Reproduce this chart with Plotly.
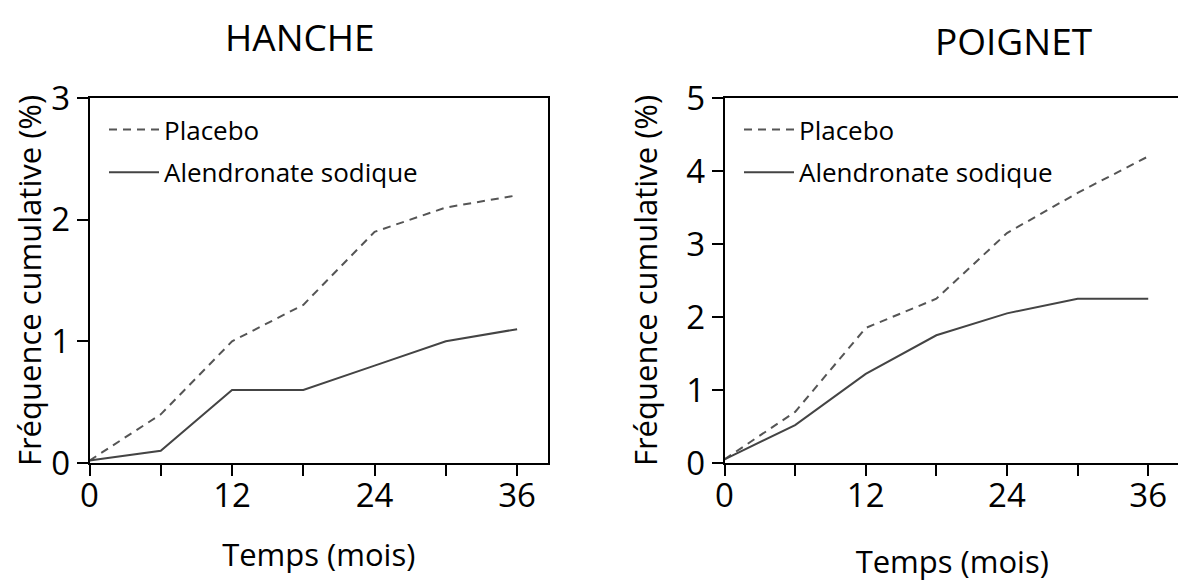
import plotly.graph_objects as go

months = [0, 6, 12, 18, 24, 30, 36]

hanche_placebo = [0.02, 0.4, 1.0, 1.3, 1.9, 2.1, 2.2]
hanche_alendronate = [0.02, 0.1, 0.6, 0.6, 0.8, 1.0, 1.1]

poignet_placebo = [0.05, 0.7, 1.85, 2.25, 3.15, 3.7, 4.2]
poignet_alendronate = [0.05, 0.52, 1.22, 1.75, 2.05, 2.25, 2.25]

titles = ["HANCHE", "POIGNET"]
series_names = ["Placebo", "Alendronate sodique"]
x_tickvals = [0, 6, 12, 18, 24, 30, 36]
x_ticktext = ["0", "", "12", "", "24", "", "36"]
y_ticks_left = [0, 1, 2, 3]
y_ticks_right = [0, 1, 2, 3, 4, 5]

FONT = "Open Sans"
FW, FH = 1178, 582
OFF = 8  # page body margin


def fx(px):
    return (px - OFF) / FW


def fy(py):
    return 1 - (py - OFF) / FH


fig = go.Figure()

dash_col = "#555555"
solid_col = "#444444"

fig.add_trace(go.Scatter(x=months, y=hanche_placebo, mode="lines", name=series_names[0],
                         line=dict(color=dash_col, width=2, dash="8px,6px"),
                         xaxis="x", yaxis="y", legend="legend", legendgroup="a"))
fig.add_trace(go.Scatter(x=months, y=hanche_alendronate, mode="lines", name=series_names[1],
                         line=dict(color=solid_col, width=2),
                         xaxis="x", yaxis="y", legend="legend", legendgroup="b"))
fig.add_trace(go.Scatter(x=months, y=poignet_placebo, mode="lines", name=series_names[0],
                         line=dict(color=dash_col, width=2, dash="8px,6px"),
                         xaxis="x2", yaxis="y2", legend="legend2", legendgroup="c"))
fig.add_trace(go.Scatter(x=months, y=poignet_alendronate, mode="lines", name=series_names[1],
                         line=dict(color=solid_col, width=2),
                         xaxis="x2", yaxis="y2", legend="legend2", legendgroup="d"))

ydom = [fy(463), fy(98)]

axis_common = dict(showline=True, mirror=True, linecolor="black", linewidth=1.5,
                   ticks="outside", ticklen=11, tickwidth=1.5, tickcolor="black",
                   showgrid=False, zeroline=False, automargin=False,
                   tickfont=dict(family=FONT, size=33, color="black"))

title_font = dict(family=FONT, size=31, color="black")

fig.update_layout(
    width=FW, height=FH,
    margin=dict(l=0, r=0, t=0, b=0),
    paper_bgcolor="white", plot_bgcolor="white",
    font=dict(family=FONT, color="black"),
    xaxis=dict(domain=[fx(89.5), fx(548)], range=[0, 38.6], anchor="y",
               tickvals=x_tickvals, ticktext=x_ticktext, ticklabelstandoff=-8,
               title=dict(text="Temps (mois)", font=title_font, standoff=28),
               **axis_common),
    yaxis=dict(domain=ydom, range=[0, 3], anchor="x", tickvals=y_ticks_left,
               title=dict(text="Fréquence cumulative (%)", font=title_font, standoff=6),
               **axis_common),
    xaxis2=dict(domain=[fx(724.5), fx(1180)], range=[0, 38.7], anchor="y2",
                tickvals=x_tickvals, ticktext=x_ticktext, ticklabelstandoff=-8,
                title=dict(text="Temps (mois)", font=title_font, standoff=35),
                **axis_common),
    yaxis2=dict(domain=ydom, range=[0, 5], anchor="x2", tickvals=y_ticks_right,
                title=dict(text="Fréquence cumulative (%)", font=title_font, standoff=19),
                **axis_common),
    legend=dict(x=fx(104), y=fy(106), xanchor="left", yanchor="top",
                bgcolor="rgba(0,0,0,0)", font=dict(family=FONT, size=26),
                traceorder="grouped", tracegroupgap=6, itemwidth=50),
    legend2=dict(x=fx(739), y=fy(106), xanchor="left", yanchor="top",
                 bgcolor="rgba(0,0,0,0)", font=dict(family=FONT, size=26),
                 traceorder="grouped", tracegroupgap=6, itemwidth=50),
    annotations=[
        dict(text=titles[0], x=fx(300), y=fy(36), xref="paper", yref="paper",
             xanchor="center", yanchor="middle",
             showarrow=False, font=dict(family=FONT, size=37, color="black")),
        dict(text=titles[1], x=fx(1013), y=fy(40), xref="paper", yref="paper",
             xanchor="center", yanchor="middle",
             showarrow=False, font=dict(family=FONT, size=37, color="black")),
    ],
)

fig.write_html("out.html")
